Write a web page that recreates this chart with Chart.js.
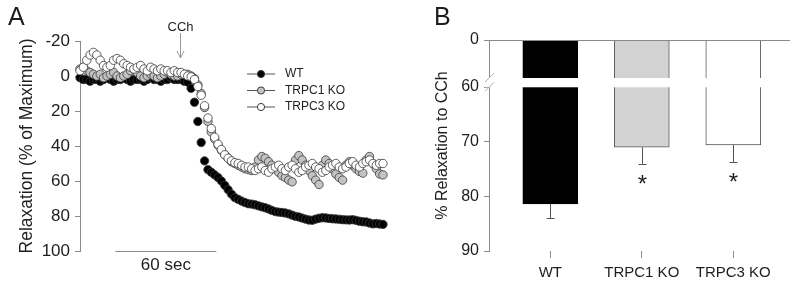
<!DOCTYPE html>
<html>
<head>
<meta charset="utf-8">
<script src="https://cdn.jsdelivr.net/npm/chart.js@4"></script>
<style>
  html, body { margin: 0; padding: 0; background: #fff; }
  #wrap { position: relative; width: 800px; height: 283px; }
  canvas { position: absolute; top: 0; }
  #chartA { left: 0; }
  #chartB { left: 400px; }
</style>
</head>
<body>
<div id="wrap">
  <canvas id="chartA" width="400" height="283"></canvas>
  <canvas id="chartB" width="400" height="283"></canvas>
</div>
<script>
// Panel A: time course (seconds) of relaxation, % of maximum
const times = [0, 2, 4, 6, 8, 10, 12, 14, 16, 18, 20, 22, 24, 26, 28, 30, 32, 34, 36, 38,
  40, 42, 44, 46, 48, 50, 52, 54, 56, 58, 60, 62, 64, 66, 68, 70, 72, 74, 76, 78,
  80, 82, 84, 86, 88, 90, 92, 94, 96, 98, 100, 102, 104, 106, 108, 110, 112, 114, 116, 118,
  120, 122, 124, 126, 128, 130, 132, 134, 136, 138, 140, 142, 144, 146, 148, 150, 152, 154, 156, 158,
  160, 162, 164, 166, 168, 170, 172, 174, 176, 178, 180];

const wt = [1, 2, 2, 3, 2, 2, 3, 2, 1, 2, 3, 2, 2, 1, 2, 3, 2, 2, 2, 3,
  2, 1, 2, 2, 3, 2, 2, 1, 2, 2, 2, 3,
  3.5, 7, 15, 26, 38, 48.5, 53.5, 55, 56.5, 58,
  60, 62.5, 65, 67.5, 69.5, 70.5, 71.5, 72.3, 73, 73.2,
  73.6, 74.2, 74.8, 75.3, 76, 76.8, 77.5, 77.8, 78, 78.3,
  78.8, 79.5, 80.2, 80.6, 81.2, 81.8, 82.3, 82.4, 81.8, 81.3,
  81, 81.1, 81.4, 81.6, 81.7, 81.9, 82.1, 82.2, 82.3, 82.1,
  82.5, 83, 83.3, 83.4, 84, 84.5, 84.3, 84.6, 84.8];

const trpc1 = [-4, -5, -3, -2, -1, 0, -1, 1, 0, -1, -2, 0, 1, 0, -1, -3, -4, -2, 0, 1,
  0, -1, 0, 1, 0, -1, -2, -1, 0, 0, -1, -1,
  -1, 0, 1.5, 5, 10, 18, 26, 32, 36, 39.5, 42.5, 45,
  47, 49, 50, 51, 52, 53, 53.5, 54, 52, 48,
  46, 47, 49, 51, 53, 55, 57, 58, 59.5, 60.5,
  48, 45.5, 48, 51, 54, 57, 59.5, 62, 51, 48,
  50, 53, 56, 58, 59.5, 51, 49, 51, 53, 54.5,
  55.5, 48, 46, 50, 53, 56, 56.5];

const trpc3 = [-3, -5, -9, -12, -13.5, -12, -9, -6, -5, -6, -9, -10, -9, -7, -6, -5, -4, -5, -6, -4,
  -3, -5, -4, -3, -4, -3, -3, -2, -3, -2, -2, -1,
  0, 0.5, 2, 6, 11, 17, 24, 30, 35, 39, 42, 45, 47, 48.5, 49.5, 50, 51, 52,
  52, 53, 54, 53, 52, 54, 55, 53, 52, 51,
  53, 54, 52, 51, 53, 55, 54, 52, 51, 50,
  52, 53, 55, 54, 52, 51, 50, 52, 53, 52,
  50, 49, 51, 52, 50, 49, 48, 50, 51, 50, 50];

const yTicksA = [-20, 0, 20, 40, 60, 80, 100];
const cchTime = 59.5;
const scaleBar = [21, 81]; // 60 sec

// Panel B: mean relaxation to CCh
const groups = ['WT', 'TRPC1 KO', 'TRPC3 KO'];
const meanRelax = [81.4, 71.0, 70.6];
const semRelax = [2.5, 3.1, 3.1];
const significant = [false, true, true];
const breakTop = 51.4; // value drawn at the top of the broken axis, labelled 0
const yTicksB = [breakTop, 60, 70, 80, 90];

const FONT = "'Liberation Sans', Arial, sans-serif";
const TXT = '#1e1e1e';
const AXIS = '#8a8a8a';

function series(label, values, fill, order) {
  return {
    label: label,
    data: times.map((t, i) => ({ x: t, y: values[i] })),
    backgroundColor: fill,
    borderColor: '#3a3a3a',
    borderWidth: 0.8,
    pointRadius: 4.2,
    showLine: false,
    clip: false,
    order: order
  };
}

const extrasA = {
  id: 'extrasA',
  afterDraw(chart) {
    const ctx = chart.ctx;
    const xs = chart.scales.x;
    const area = chart.chartArea;
    ctx.save();

    // panel letter
    ctx.fillStyle = TXT;
    ctx.font = '25px ' + FONT;
    ctx.textAlign = 'left';
    ctx.textBaseline = 'alphabetic';
    ctx.fillText('A', 8, 25);

    // time scale bar
    const b0 = xs.getPixelForValue(scaleBar[0]);
    const b1 = xs.getPixelForValue(scaleBar[1]);
    ctx.strokeStyle = AXIS;
    ctx.lineWidth = 1;
    ctx.beginPath();
    ctx.moveTo(b0, area.bottom + 0.5);
    ctx.lineTo(b1, area.bottom + 0.5);
    ctx.stroke();
    ctx.font = '17px ' + FONT;
    ctx.textAlign = 'center';
    ctx.textBaseline = 'middle';
    ctx.fillText('60 sec', (b0 + b1) / 2, 265);

    // CCh arrow
    const cx = Math.round(xs.getPixelForValue(cchTime)) + 0.5;
    ctx.font = '13px ' + FONT;
    ctx.fillText('CCh', cx, 27);
    ctx.strokeStyle = '#9a9a9a';
    ctx.beginPath();
    ctx.moveTo(cx, 33);
    ctx.lineTo(cx, 58);
    ctx.moveTo(cx - 3.5, 51);
    ctx.lineTo(cx, 58);
    ctx.lineTo(cx + 3.5, 51);
    ctx.stroke();

    // legend
    chart.data.datasets.forEach((ds, i) => {
      const y = 74 + i * 16.5;
      ctx.strokeStyle = '#555';
      ctx.beginPath();
      ctx.moveTo(247, y);
      ctx.lineTo(275, y);
      ctx.stroke();
      ctx.beginPath();
      ctx.arc(261, y, 3.6, 0, Math.PI * 2);
      ctx.fillStyle = ds.backgroundColor;
      ctx.fill();
      ctx.strokeStyle = '#3a3a3a';
      ctx.stroke();
      ctx.fillStyle = TXT;
      ctx.font = '12px ' + FONT;
      ctx.textAlign = 'left';
      ctx.fillText(ds.label, 285, y);
    });
    ctx.restore();
  }
};

new Chart(document.getElementById('chartA'), {
  type: 'scatter',
  data: {
    datasets: [
      series('WT', wt, '#000000', 3),
      series('TRPC1 KO', trpc1, '#c3c3c3', 2),
      series('TRPC3 KO', trpc3, '#ffffff', 1)
    ]
  },
  options: {
    responsive: false,
    animation: false,
    layout: { padding: { top: 41, right: 17, bottom: 32, left: 0 } },
    plugins: { legend: { display: false }, tooltip: { enabled: false } },
    scales: {
      x: { type: 'linear', display: false, min: 0, max: 180 },
      y: {
        reverse: true,
        min: -20,
        max: 100,
        afterBuildTicks: s => { s.ticks = yTicksA.map(v => ({ value: v })); },
        afterFit: s => { s.width = 80; },
        grid: { drawOnChartArea: false, tickLength: 5, color: AXIS },
        border: { color: AXIS },
        ticks: { font: { family: FONT, size: 17 }, color: TXT, padding: 5 },
        title: {
          display: true,
          text: 'Relaxation (% of Maximum)',
          font: { family: FONT, size: 17.5 },
          color: TXT,
          padding: { top: 17, bottom: 0 }
        }
      }
    }
  },
  plugins: [extrasA]
});

const extrasB = {
  id: 'extrasB',
  afterDraw(chart) {
    const ctx = chart.ctx;
    const xs = chart.scales.x;
    const ys = chart.scales.y;
    const area = chart.chartArea;
    ctx.save();

    ctx.fillStyle = TXT;
    ctx.font = '25px ' + FONT;
    ctx.textAlign = 'left';
    ctx.textBaseline = 'alphabetic';
    ctx.fillText('B', 34, 25);

    // top frame line
    ctx.strokeStyle = AXIS;
    ctx.lineWidth = 1;
    ctx.beginPath();
    ctx.moveTo(area.left, area.top + 0.5);
    ctx.lineTo(area.right, area.top + 0.5);
    ctx.stroke();

    // axis break
    const g0 = ys.getPixelForValue(58.35);
    const g1 = ys.getPixelForValue(60.05);
    ctx.fillStyle = '#ffffff';
    ctx.fillRect(area.left - 4, g0, area.right - area.left + 10, g1 - g0);
    ctx.strokeStyle = '#b0b0b0';
    ctx.beginPath();
    ctx.moveTo(area.left - 4, g0 + 4);
    ctx.lineTo(area.left + 5, g0 - 5);
    ctx.moveTo(area.left - 4, g1 + 4);
    ctx.lineTo(area.left + 5, g1 - 5);
    ctx.stroke();

    // one-sided error bars and significance marks
    ctx.strokeStyle = '#555';
    groups.forEach((g, i) => {
      const x = Math.round(xs.getPixelForValue(i)) + 0.5;
      const y1 = ys.getPixelForValue(meanRelax[i]);
      const y2 = Math.round(ys.getPixelForValue(meanRelax[i] + semRelax[i])) + 0.5;
      ctx.beginPath();
      ctx.moveTo(x, y1);
      ctx.lineTo(x, y2);
      ctx.moveTo(x - 4, y2);
      ctx.lineTo(x + 4, y2);
      ctx.stroke();
      if (significant[i]) {
        ctx.fillStyle = TXT;
        ctx.font = '24px ' + FONT;
        ctx.textAlign = 'center';
        ctx.textBaseline = 'alphabetic';
        ctx.fillText('*', x, y2 + 27);
      }
    });
    ctx.restore();
  }
};

new Chart(document.getElementById('chartB'), {
  type: 'bar',
  data: {
    datasets: [{
      data: groups.map((g, i) => ({ x: i, y: meanRelax[i] })),
      backgroundColor: ['#000000', '#d2d2d2', '#ffffff'],
      borderColor: ['#000000', '#5a5a5a', '#5a5a5a'],
      borderWidth: 1,
      barThickness: 55
    }]
  },
  options: {
    responsive: false,
    animation: false,
    layout: { padding: { top: 40, right: 10, bottom: 0, left: 0 } },
    plugins: { legend: { display: false }, tooltip: { enabled: false } },
    scales: {
      x: {
        type: 'linear',
        min: -0.67,
        max: 2.62,
        offset: false,
        afterBuildTicks: s => { s.ticks = groups.map((g, i) => ({ value: i })); },
        afterFit: s => { s.height = 32; },
        grid: { drawOnChartArea: false, tickLength: 7, color: AXIS, offset: false },
        border: { display: false },
        ticks: {
          callback: v => groups[v],
          autoSkip: false,
          maxRotation: 0,
          font: { family: FONT, size: 15 },
          color: TXT,
          padding: 6
        }
      },
      y: {
        reverse: true,
        min: breakTop,
        max: 90,
        afterBuildTicks: s => { s.ticks = yTicksB.map(v => ({ value: v })); },
        afterFit: s => { s.width = 89; },
        grid: { drawOnChartArea: false, tickLength: 5, color: AXIS },
        border: { color: AXIS },
        ticks: {
          callback: v => (v === breakTop ? '0' : v),
          font: { family: FONT, size: 16 },
          color: TXT,
          padding: 5
        },
        title: {
          display: true,
          text: '% Relaxation to CCh',
          font: { family: FONT, size: 16 },
          color: TXT,
          padding: { top: 33, bottom: 0 }
        }
      }
    }
  },
  plugins: [extrasB]
});
</script>
</body>
</html>
